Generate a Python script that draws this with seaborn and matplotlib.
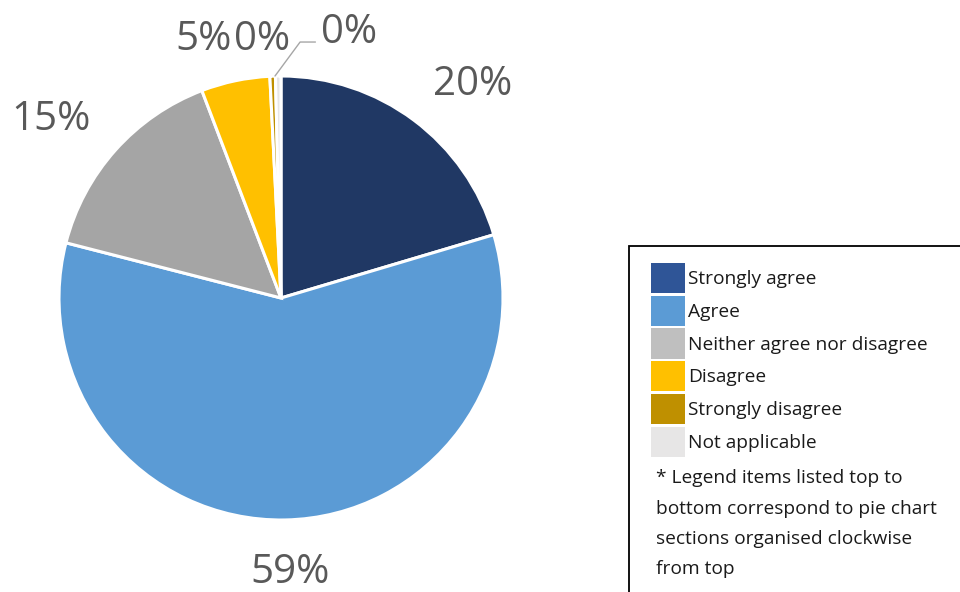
import matplotlib
matplotlib.use("Agg")
import matplotlib.pyplot as plt
from matplotlib.patches import Patch, Rectangle
import seaborn as sns

# Survey responses (share of respondents, %), clockwise from top
categories = ["Strongly agree", "Agree", "Neither agree nor disagree",
              "Disagree", "Strongly disagree", "Not applicable"]
shares = [20.4, 58.6, 15.2, 5.0, 0.4, 0.4]
slice_colors = ["#203864", "#5B9BD5", "#A5A5A5", "#FFC000", "#BF9000", "#E7E6E6"]
legend_colors = ["#2F5597", "#5B9BD5", "#BFBFBF", "#FFC000", "#BF9000", "#E7E6E6"]
note_lines = ["* Legend items listed top to",
              "bottom correspond to pie chart",
              "sections organised clockwise",
              "from top"]

sns.set_theme(style="white")
plt.rcParams["font.family"] = ["Open Sans", "DejaVu Sans"]

W, H = 960, 592
fig = plt.figure(figsize=(W / 100, H / 100), dpi=100)
ax = fig.add_axes([0, 0, 1, 1])

# pie centre and radius in pixels
cx, cy, r = 281, 298, 222
wedges, texts = ax.pie(
    shares, colors=slice_colors, startangle=90, counterclock=False,
    wedgeprops=dict(edgecolor="white", linewidth=2.2),
    labels=[f"{v:.0f}%" for v in shares], labeldistance=1.3,
    textprops=dict(fontsize=29, color="#595959"),
)
ax.set_xlim(-cx / r, (W - cx) / r)
ax.set_ylim(-(H - cy) / r, cy / r)
ax.set_aspect("equal")
ax.axis("off")

# label placement (data units, radius = 1; y is the text baseline)
label_pos = [(0.865, 0.914), (0.04, -1.284), (-1.036, 0.757),
             (-0.351, 1.117), (-0.086, 1.117), (0.306, 1.149)]
for t, (x, y) in zip(texts, label_pos):
    t.set_position((x, y))
    t.set_ha("center")
    t.set_va("baseline")

# leader line for the last small slice
ax.plot([-0.027, 0.086, 0.155], [1.0, 1.153, 1.153], color="#A6A6A6", lw=1)

# legend frame running off the canvas
fig.patches.append(Rectangle((629 / W, -0.1), 0.5, 1 - 246 / H + 0.1,
                             transform=fig.transFigure, fill=False,
                             edgecolor="black", linewidth=1.3))

handles = [Patch(facecolor=c, edgecolor="none") for c in legend_colors]
fs = 13.8
fig.legend(handles, categories, loc="upper left",
           bbox_to_anchor=(651 / W, 1 - 263 / H), frameon=False,
           fontsize=fs, handlelength=1.75, handleheight=2.05,
           handletextpad=0.2, labelspacing=0.13, borderpad=0, borderaxespad=0,
           labelcolor="#1a1a1a")

for i, line in enumerate(note_lines):
    fig.text(656 / W, 1 - (478 + 30.5 * i) / H, line, fontsize=fs,
             color="#1a1a1a", ha="left", va="center")

fig.savefig("out.png", dpi=100)
